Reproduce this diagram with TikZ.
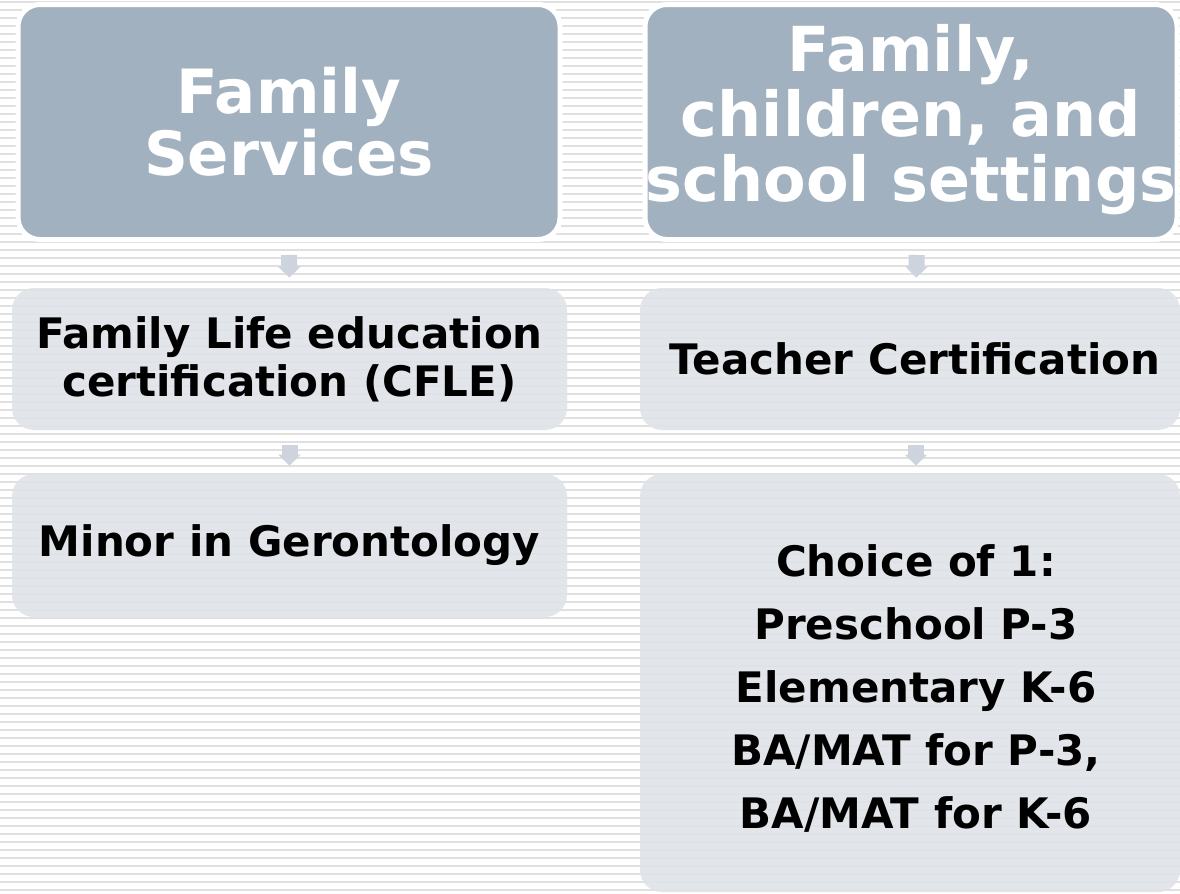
\documentclass[tikz,border=0pt]{standalone}
\usepackage{fontspec}
\setmainfont{DejaVu Sans}
\usetikzlibrary{arrows.meta}
\usetikzlibrary{positioning}

\definecolor{headfill}{HTML}{A2B1C0}
\definecolor{itemfill}{HTML}{DFE3E8}
\definecolor{arrowfill}{HTML}{CDD4DD}
\definecolor{stripe}{HTML}{E0E0E0}

\tikzset{
    headbox/.style={draw=white, line width=2.5pt, fill=headfill, rounded corners=11pt,
        text=white, font=\bfseries\fontsize{30.5}{29.5}\selectfont, align=center,
        minimum height=117.5pt, inner sep=0pt},
    itembox/.style={fill=itemfill, fill opacity=0.9, text opacity=1, rounded corners=11pt,
        text=black, font=\bfseries\fontsize{21}{24}\selectfont, align=center,
        minimum height=71pt, inner sep=0pt},
    flowarrow/.style={draw=arrowfill, line width=8pt, -{Triangle[width=11pt,length=5.5pt]}}
}

\begin{document}
\begin{tikzpicture}[x=0.5pt, y=-0.5pt]
    \useasboundingbox (0,0) rectangle (1180,894);
    \clip (0,0) rectangle (1180,894);
    % striped background
    \fill [white] (0,0) rectangle (1180,894);
    \foreach \y in {2,10,...,898}
        \draw [stripe, line width=1pt] (0,\y) -- (1180,\y);

    % left column
    \node [headbox, minimum width=271pt] (famserv) at (289,122) {Family\\Services};
    \node [itembox, minimum width=277.5pt] (cfle) at (289.5,359) {Family Life education\\certification (CFLE)};
    \node [itembox, minimum width=277.5pt, minimum height=71.5pt] (minor) at (289.5,545.5) {Minor in Gerontology};

    % right column
    \node [headbox, minimum width=266pt, font=\bfseries\fontsize{31}{29.5}\selectfont] (settings) at (911,122)
        {\raisebox{4pt}{\begin{tabular}{@{}c@{}}Family,\\children, and\\school settings\end{tabular}}};
    \node [itembox, minimum width=270pt] (teacher) at (910,359) {\hspace*{5pt}Teacher Certification};
    \node [itembox, minimum width=270pt, minimum height=209pt,
        font=\bfseries\fontsize{21}{31.5}\selectfont] (choice) at (910,683)
        {\hspace*{6pt}\raisebox{0pt}[\dimexpr\height+7pt\relax]{\begin{tabular}{@{}c@{}}Choice of 1:\\Preschool P-3\\Elementary K-6\\BA/MAT for P-3,\\BA/MAT for K-6\end{tabular}}};

    % arrows
    \draw [flowarrow, shorten <=6.5pt, shorten >=5pt] (famserv.south) -- (cfle.north);
    \draw [flowarrow, shorten <=7.5pt, shorten >=4pt] (cfle.south) -- (minor.north);
    \draw [flowarrow, shorten <=6.5pt, shorten >=5pt] ([xshift=3pt]settings.south) -- ([xshift=3pt]teacher.north);
    \draw [flowarrow, shorten <=7.5pt, shorten >=4pt] ([xshift=3pt]teacher.south) -- ([xshift=3pt]choice.north);
\end{tikzpicture}
\end{document}
